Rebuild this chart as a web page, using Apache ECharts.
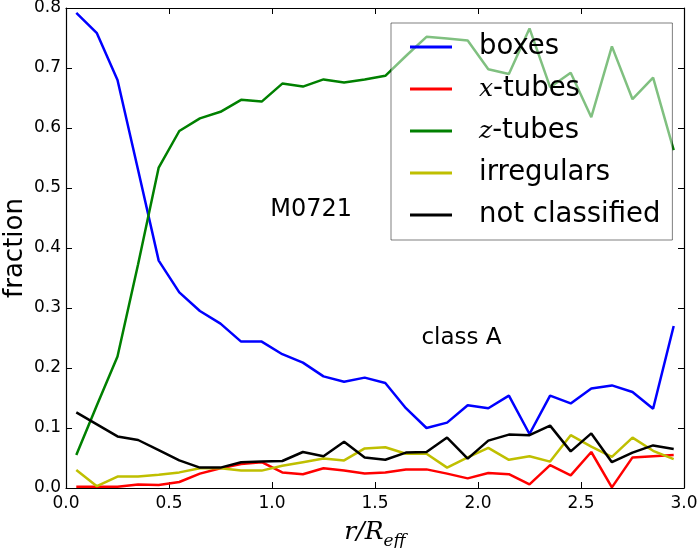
<!DOCTYPE html>
<html>
<head>
<meta charset="utf-8">
<script src="https://cdn.jsdelivr.net/npm/echarts@6/dist/echarts.min.js"></script>
<style>
  html, body { margin: 0; padding: 0; background: #fff; }
  #chart { width: 697px; height: 548px; }
</style>
</head>
<body>
<div id="chart"></div>
<script>
// radial bins r/R_eff
var rBins = [0.05, 0.15, 0.25, 0.35, 0.45, 0.55, 0.65, 0.75, 0.85, 0.95,
             1.05, 1.15, 1.25, 1.35, 1.45, 1.55, 1.65, 1.75, 1.85, 1.95,
             2.05, 2.15, 2.25, 2.35, 2.45, 2.55, 2.65, 2.75, 2.85, 2.95];

var boxes = [0.792, 0.758, 0.680, 0.530, 0.379, 0.326, 0.295, 0.274, 0.244, 0.244,
             0.223, 0.209, 0.186, 0.177, 0.184, 0.175, 0.133, 0.100, 0.109, 0.138,
             0.133, 0.154, 0.090, 0.154, 0.141, 0.166, 0.171, 0.160, 0.132, 0.270];

var xTubes = [0.002, 0.002, 0.002, 0.006, 0.005, 0.010, 0.024, 0.033, 0.040, 0.043,
              0.026, 0.023, 0.033, 0.029, 0.024, 0.026, 0.031, 0.031, 0.024, 0.016,
              0.025, 0.023, 0.006, 0.038, 0.021, 0.060, 0.001, 0.051, 0.053, 0.055];

var zTubes = [0.055, 0.138, 0.219, 0.373, 0.534, 0.595, 0.616, 0.627, 0.647, 0.644,
              0.674, 0.669, 0.681, 0.676, 0.681, 0.687, 0.720, 0.752, 0.749, 0.746,
              0.698, 0.690, 0.766, 0.668, 0.692, 0.618, 0.736, 0.648, 0.684, 0.563];

var irregulars = [0.030, 0.003, 0.019, 0.019, 0.022, 0.026, 0.033, 0.033, 0.029, 0.029,
                  0.037, 0.043, 0.049, 0.046, 0.066, 0.068, 0.057, 0.057, 0.034, 0.051,
                  0.067, 0.047, 0.053, 0.044, 0.088, 0.069, 0.052, 0.084, 0.062, 0.048];

var notClassified = [0.126, 0.106, 0.086, 0.080, 0.063, 0.046, 0.034, 0.034, 0.043, 0.044,
                     0.045, 0.060, 0.053, 0.077, 0.051, 0.047, 0.059, 0.060, 0.084, 0.049,
                     0.079, 0.089, 0.088, 0.104, 0.061, 0.091, 0.043, 0.059, 0.071, 0.065];

var seriesNames = ['boxes', 'x-tubes', 'z-tubes', 'irregulars', 'not classified'];
var seriesColors = ['#0000ff', '#ff0000', '#008000', '#bfbf00', '#000000'];
var seriesValues = [boxes, xTubes, zTubes, irregulars, notClassified];

function pairs(vals) {
    return vals.map(function (v, i) { return [rBins[i], v]; });
}

var chart = echarts.init(document.getElementById('chart'));

var font = 'DejaVu Sans';

var series = seriesValues.map(function (vals, i) {
    return {
        name: seriesNames[i],
        type: 'line',
        data: pairs(vals),
        symbol: 'none',
        color: seriesColors[i],
        lineStyle: {width: 2.5, color: seriesColors[i]},
        animation: false
    };
});

// the two text labels on the plot
series[4].markPoint = {
    symbol: 'circle',
    symbolSize: 0,
    animation: false,
    label: {show: true, position: 'inside', color: '#000', fontFamily: font},
    data: [
        {coord: [1.19, 0.463], value: 'M0721', label: {fontSize: 24, formatter: 'M0721'}},
        {coord: [1.92, 0.250], value: 'class A', label: {fontSize: 23, formatter: 'class A'}}
    ]
};

var tickStyle = {show: true, inside: true, length: 6, lineStyle: {color: '#000', width: 1}};
var lineAx = {show: true, onZero: false, lineStyle: {color: '#000', width: 1.2}};

var option = {
    backgroundColor: '#fff',
    textStyle: {fontFamily: font},
    grid: {left: 66, right: 13, top: 8, bottom: 60, containLabel: false, outerBoundsMode: 'none'},
    legend: {
        orient: 'vertical',
        left: 391,
        top: 23,
        data: seriesNames,
        icon: 'rect',
        itemWidth: 42,
        itemHeight: 3,
        itemGap: 12,
        padding: [9, 12, 10, 19],
        backgroundColor: 'rgba(255,255,255,0.5)',
        borderColor: 'rgba(0,0,0,0.5)',
        borderWidth: 1,
        formatter: function (name) {
            if (name === 'x-tubes') return '{m|x}-tubes';
            if (name === 'z-tubes') return '{m|z}-tubes';
            return name;
        },
        textStyle: {
            fontFamily: font,
            fontSize: 27.5,
            lineHeight: 30,
            color: '#000',
            padding: [0, 0, 0, 22],
            rich: {
                m: {fontFamily: 'DejaVu Serif', fontStyle: 'italic', fontSize: 25, lineHeight: 30, color: '#000'}
            }
        }
    },
    xAxis: [
        {
            type: 'value',
            min: 0, max: 3, interval: 0.5,
            position: 'bottom',
            axisLine: lineAx,
            axisTick: tickStyle,
            splitLine: {show: false},
            axisLabel: {
                fontSize: 17, color: '#000', margin: 7, fontFamily: font,
                formatter: function (v) { return v.toFixed(1); }
            },
            name: '{a|r/R}{b|eff}',
            nameLocation: 'middle',
            nameGap: 27,
            nameMoveOverlap: false,
            nameTextStyle: {
                rich: {
                    a: {fontFamily: 'DejaVu Serif', fontStyle: 'italic', fontSize: 25, color: '#000'},
                    b: {fontFamily: 'DejaVu Serif', fontStyle: 'italic', fontSize: 17, color: '#000', padding: [18, 0, 0, 0]}
                }
            }
        },
        {
            type: 'value',
            min: 0, max: 3, interval: 0.5,
            position: 'top',
            axisLine: lineAx,
            axisTick: tickStyle,
            splitLine: {show: false},
            axisLabel: {show: false}
        }
    ],
    yAxis: [
        {
            type: 'value',
            min: 0, max: 0.8, interval: 0.1,
            position: 'left',
            axisLine: lineAx,
            axisTick: tickStyle,
            splitLine: {show: false},
            axisLabel: {
                fontSize: 17, color: '#000', margin: 5, fontFamily: font,
                formatter: function (v) { return v.toFixed(1); }
            },
            name: 'fraction',
            nameLocation: 'middle',
            nameGap: 38,
            nameMoveOverlap: false,
            nameTextStyle: {fontSize: 26, color: '#000', fontFamily: font}
        },
        {
            type: 'value',
            min: 0, max: 0.8, interval: 0.1,
            position: 'right',
            axisLine: lineAx,
            axisTick: tickStyle,
            splitLine: {show: false},
            axisLabel: {show: false}
        }
    ],
    series: series
};

chart.setOption(option);
</script>
</body>
</html>
